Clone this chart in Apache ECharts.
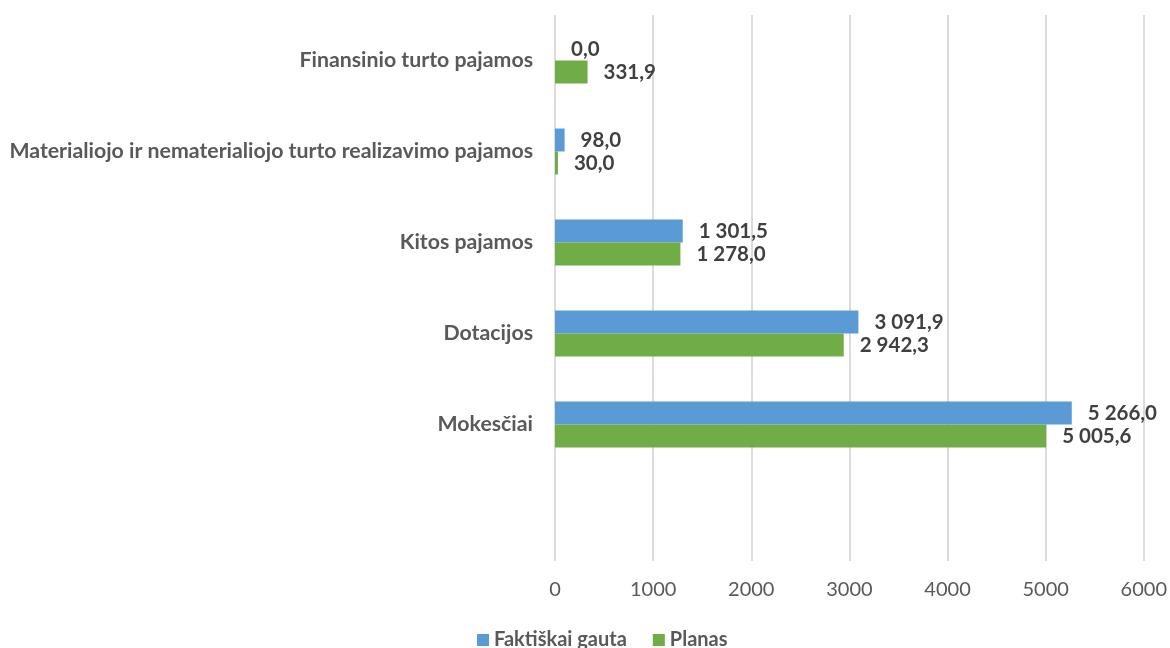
<!DOCTYPE html>
<html>
<head>
<meta charset="utf-8">
<script src="https://cdn.jsdelivr.net/npm/echarts@6/dist/echarts.min.js"></script>
<style>html,body{margin:0;padding:0;background:#fff;}#c{width:1170px;height:648px;}</style>
</head>
<body>
<div id="c"></div>
<script>
const categories = ['Finansinio turto pajamos', 'Materialiojo ir nematerialiojo turto realizavimo pajamos', 'Kitos pajamos', 'Dotacijos', 'Mokesčiai', ''];
const faktiskai = [0.0, 98.0, 1301.5, 3091.9, 5266.0, null];
const planas = [331.9, 30.0, 1278.0, 2942.3, 5005.6, null];
const seriesNames = ['Faktiškai gauta', 'Planas'];
const xTicks = { min: 0, max: 6000, interval: 1000 };

function fmt(v) {
  const s = Math.abs(v).toFixed(1).split('.');
  const int = s[0].replace(/\B(?=(\d{3})+(?!\d))/g, ' ');
  return (v < 0 ? '-' : '') + int + ',' + s[1];
}

const FONT = 'Lato';
const chart = echarts.init(document.getElementById('c'), null, { renderer: 'canvas' });
const labelStyle = {
  show: true, position: 'right', distance: 16,
  color: '#404040', fontFamily: FONT, fontWeight: 'bold', fontSize: 20.5,
  formatter: p => (p.value == null ? '' : fmt(p.value))
};
chart.setOption({
  animation: false,
  grid: { left: 555, right: 23, top: 15, bottom: 87 },
  legend: {
    data: seriesNames, bottom: -7, left: 472,
    itemWidth: 12, itemHeight: 12, itemGap: 26, icon: 'rect',
    textStyle: { color: '#595959', fontFamily: FONT, fontWeight: 'bold', fontSize: 20 }
  },
  xAxis: {
    type: 'value', min: xTicks.min, max: xTicks.max, interval: xTicks.interval,
    axisLine: { show: false }, axisTick: { show: false },
    splitLine: { show: true, lineStyle: { color: '#cfcfcf', width: 1.5 } },
    axisLabel: { color: '#595959', fontFamily: FONT, fontSize: 20, margin: 19, formatter: v => String(v) }
  },
  yAxis: {
    type: 'category', data: categories, inverse: true,
    axisLine: { show: false }, axisTick: { show: false },
    axisLabel: { color: '#595959', fontFamily: FONT, fontWeight: 'bold', fontSize: 21.3, margin: 22 }
  },
  series: [
    { name: seriesNames[0], type: 'bar', data: faktiskai, barWidth: 23, barGap: '0%',
      itemStyle: { color: '#5B9BD5' }, label: labelStyle },
    { name: seriesNames[1], type: 'bar', data: planas, barWidth: 23, barGap: '0%',
      itemStyle: { color: '#70AD47' }, label: labelStyle }
  ]
});
</script>
</body>
</html>
